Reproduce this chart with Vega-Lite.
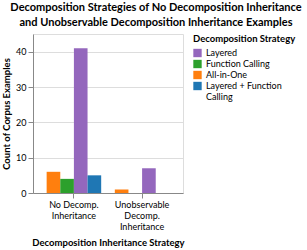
{
  "$schema": "https://vega.github.io/schema/vega-lite/v6.json",
  "width": 150,
  "height": 159,
  "padding": {"left": 1, "top": 2, "right": 2, "bottom": 1},
  "config": {
    "font": "Lato",
    "view": {"stroke": "#ddd"},
    "axis": {"labelFontSize": 9, "titleFontSize": 9.5, "labelColor": "#000", "titleColor": "#000", "labelLineHeight": 11},
    "legend": {"labelFontSize": 9, "titleFontSize": 9.5, "labelColor": "#000", "titleColor": "#000"}
  },
  "title": {
    "text": ["Decomposition Strategies of No Decomposition Inheritance", "and Unobservable Decomposition Inheritance Examples"],
    "fontSize": 11,
    "fontWeight": "bold",
    "anchor": "middle",
    "frame": "group",
    "lineHeight": 15,
    "offset": 6,
    "dx": 48
  },
  "data": {
    "values": [
      {"inheritance": "No Decomp. Inheritance", "strategy": "All-in-One", "count": 6},
      {"inheritance": "No Decomp. Inheritance", "strategy": "Function Calling", "count": 4},
      {"inheritance": "No Decomp. Inheritance", "strategy": "Layered", "count": 41},
      {"inheritance": "No Decomp. Inheritance", "strategy": "Layered + Function Calling", "count": 5},
      {"inheritance": "Unobservable Decomp. Inheritance", "strategy": "All-in-One", "count": 1},
      {"inheritance": "Unobservable Decomp. Inheritance", "strategy": "Layered", "count": 7}
    ]
  },
  "mark": {"type": "bar"},
  "encoding": {
    "x": {
      "field": "inheritance",
      "type": "nominal",
      "title": "Decomposition Inheritance Strategy",
      "axis": {
        "labelAngle": 0,
        "labelExpr": "datum.label == 'No Decomp. Inheritance' ? ['No Decomp.', 'Inheritance'] : ['Unobservable', 'Decomp.', 'Inheritance']",
        "titlePadding": 6
      }
    },
    "xOffset": {
      "field": "strategy",
      "type": "nominal",
      "scale": {"domain": ["All-in-One", "Function Calling", "Layered", "Layered + Function Calling"]}
    },
    "y": {
      "field": "count",
      "type": "quantitative",
      "title": "Count of Corpus Examples"
    },
    "color": {
      "field": "strategy",
      "type": "nominal",
      "title": "Decomposition Strategy",
      "scale": {
        "domain": ["Layered", "Function Calling", "All-in-One", "Layered + Function Calling"],
        "range": ["#9467bd", "#2ca02c", "#ff7f0e", "#1f77b4"]
      },
      "legend": {
        "labelExpr": "datum.label == 'Layered + Function Calling' ? ['Layered + Function', 'Calling'] : datum.label",
        "symbolType": "square",
        "symbolSize": 70,
        "symbolStrokeWidth": 0,
        "rowPadding": 1,
        "offset": 10
      }
    }
  }
}
